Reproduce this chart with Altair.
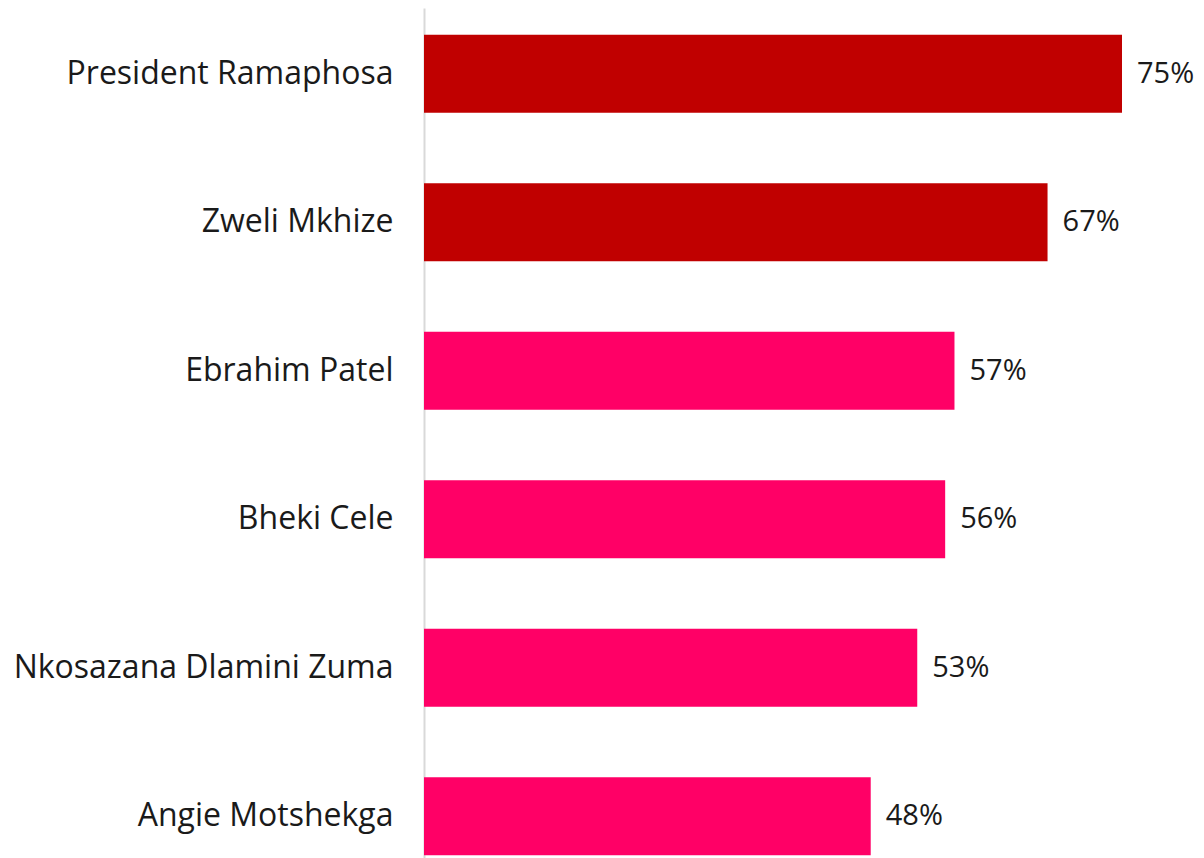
import altair as alt
import pandas as pd

names = ["President Ramaphosa", "Zweli Mkhize\u00a0", "Ebrahim Patel", "Bheki Cele\u00a0",
         "Nkosazana Dlamini Zuma", "Angie Motshekga"]
values = [75, 67, 57, 56, 53, 48]
groups = ["top", "top", "other", "other", "other", "other"]

df = pd.DataFrame({"name": names, "value": values, "group": groups})
df["label"] = df["value"].astype(str) + "%"

FONT = "Open Sans"

y = alt.Y("name:N", sort=names, title=None,
          scale=alt.Scale(paddingInner=0.475, paddingOuter=0.18),
          axis=alt.Axis(domain=True, domainColor="#d9d9d9", domainWidth=2, ticks=False,
                        labelFont=FONT, labelFontSize=32, labelColor="#1a1a1a",
                        labelPadding=31, labelLimit=500))
x = alt.X("value:Q", scale=alt.Scale(domain=[0, 75]), axis=None)

bars = alt.Chart(df).mark_bar().encode(
    y=y, x=x,
    color=alt.Color("group:N", scale=alt.Scale(domain=["top", "other"], range=["#C00000", "#FF0066"]),
                    legend=None),
)
text = alt.Chart(df).mark_text(align="left", baseline="middle", dx=15, font=FONT, fontSize=29,
                               color="#1a1a1a").encode(y=y, x=x, text="label:N")

chart = (bars + text).properties(
    width=698, height=874,
    padding={"left": 416, "top": 0, "right": 74, "bottom": 0},
    autosize=alt.AutoSizeParams(type="none"),
).configure_view(stroke=None)

chart.save("out.html", embed_options={"renderer": "svg", "actions": False})
